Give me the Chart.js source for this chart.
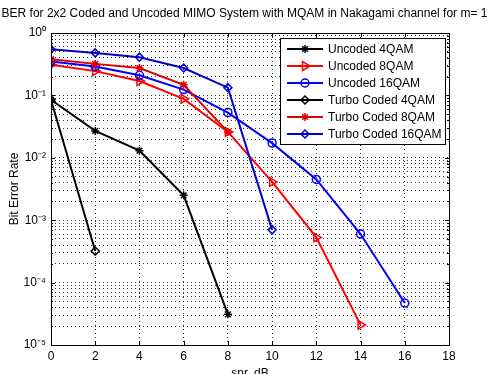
<!DOCTYPE html>
<html>
<head>
<meta charset="utf-8">
<script src="https://cdn.jsdelivr.net/npm/chart.js@4.4.1/dist/chart.umd.min.js"></script>
<style>
  html, body { margin: 0; padding: 0; background: #fff; }
</style>
</head>
<body>
<canvas id="chart" width="489" height="374"></canvas>
<script>
// DATA
const snr = [0, 2, 4, 6, 8, 10, 12, 14, 16];
const uncoded4 = [0.085, 0.027, 0.013, 0.0025, 3.1e-5];
const uncoded8 = [0.31, 0.245, 0.17, 0.088, 0.026, 0.0041, 0.00053, 2.1e-5];
const uncoded16 = [0.35, 0.29, 0.21, 0.124, 0.053, 0.0172, 0.0045, 0.0006, 4.7e-5];
const turbo4 = [0.085, 0.00032];
const turbo8 = [0.38, 0.32, 0.275, 0.148, 0.026];
const turbo16 = [0.55, 0.48, 0.41, 0.275, 0.133, 0.0007];

const names = [
  "Uncoded 4QAM",
  "Uncoded 8QAM",
  "Uncoded 16QAM",
  "Turbo Coded 4QAM",
  "Turbo Coded 8QAM",
  "Turbo Coded 16QAM"
];
const values = [uncoded4, uncoded8, uncoded16, turbo4, turbo8, turbo16];
const colors = ["#000000", "#ff0000", "#0000ff", "#000000", "#e00000", "#0000cc"];
const markers = ["star", "triangle", "circle", "rectRot", "star", "rectRot"];
const rotations = [0, 90, 0, 0, 0, 0];

const xTicks = [0, 2, 4, 6, 8, 10, 12, 14, 16, 18];
const yDecades = [-5, -4, -3, -2, -1, 0];

const FONT = "'Liberation Sans', Arial, Helvetica, sans-serif";
const sup = { "-": "\u207B", "0": "\u2070", "1": "\u00B9", "2": "\u00B2", "3": "\u00B3",
              "4": "\u2074", "5": "\u2075", "6": "\u2076", "7": "\u2077", "8": "\u2078", "9": "\u2079" };
const powLabel = e => "10" + String(e).split("").map(c => sup[c]).join("");

const datasets = values.map((vals, i) => ({
  label: names[i],
  data: vals.map((v, k) => ({ x: snr[k], y: v })),
  borderColor: colors[i],
  backgroundColor: "rgba(0,0,0,0)",
  borderWidth: 2,
  pointStyle: markers[i],
  pointRotation: rotations[i],
  pointRadius: markers[i] === "triangle" ? 5 : 4,
  pointBorderWidth: 1.5,
  pointBorderColor: colors[i],
  pointBackgroundColor: "rgba(0,0,0,0)",
  tension: 0,
  order: values.length - i
}));

// frame, inward ticks, boxed legend
const matlabBox = {
  id: "matlabBox",
  afterDraw(chart) {
    const ctx = chart.ctx;
    const a = chart.chartArea;
    const xs = chart.scales.x, ys = chart.scales.y;
    ctx.save();
    ctx.strokeStyle = "#000";
    ctx.lineWidth = 1;
    ctx.strokeRect(a.left + 0.5, a.top + 0.5, a.right - a.left, a.bottom - a.top);

    ctx.beginPath();
    xTicks.forEach(t => {
      const px = Math.round(xs.getPixelForValue(t)) + 0.5;
      ctx.moveTo(px, a.bottom); ctx.lineTo(px, a.bottom - 4);
      ctx.moveTo(px, a.top); ctx.lineTo(px, a.top + 4);
    });
    ys.ticks.forEach(t => {
      const py = Math.round(ys.getPixelForValue(t.value)) + 0.5;
      const len = Number.isInteger(Math.log10(t.value)) ? 4 : 2;
      ctx.moveTo(a.left, py); ctx.lineTo(a.left + len, py);
      ctx.moveTo(a.right, py); ctx.lineTo(a.right - len, py);
    });
    ctx.stroke();

    // legend
    const w = 165, h = 106;
    const lx = a.right - 4 - w, ly = a.top + 5;
    ctx.fillStyle = "#fff";
    ctx.fillRect(lx, ly, w, h);
    ctx.strokeRect(lx + 0.5, ly + 0.5, w, h);
    ctx.font = "12px " + FONT;
    ctx.textBaseline = "middle";
    chart.data.datasets.forEach((ds, i) => {
      const y = ly + 11 + i * 17;
      ctx.strokeStyle = ds.borderColor;
      ctx.lineWidth = 2;
      ctx.beginPath();
      ctx.moveTo(lx + 7, y); ctx.lineTo(lx + 43, y);
      ctx.stroke();
      ctx.lineWidth = ds.pointBorderWidth;
      ctx.fillStyle = "rgba(0,0,0,0)";
      Chart.helpers.drawPoint(ctx, {
        pointStyle: ds.pointStyle, radius: ds.pointRadius,
        rotation: ds.pointRotation, borderWidth: ds.pointBorderWidth
      }, lx + 25, y);
      ctx.fillStyle = "#000";
      ctx.fillText(ds.label, lx + 48, y + 1);
    });
    ctx.restore();
  }
};

const ctx = document.getElementById("chart").getContext("2d");

new Chart(ctx, {
  type: "line",
  data: { datasets },
  plugins: [matlabBox],
  options: {
    responsive: false,
    animation: false,
    layout: { padding: 0 },
    plugins: {
      legend: { display: false },
      tooltip: { enabled: false },
      title: {
        display: true,
        text: "BER for 2x2 Coded and Uncoded MIMO System with MQAM in Nakagami channel for m= 1",
        color: "#000",
        font: { family: FONT, size: 12, weight: "normal" },
        padding: { top: 6, bottom: 12.6 }
      }
    },
    scales: {
      x: {
        type: "linear",
        min: 0,
        max: 18,
        afterFit: s => { s.height = 29; },
        afterBuildTicks: s => { s.ticks = xTicks.map(v => ({ value: v })); },
        ticks: {
          color: "#000",
          padding: 4,
          font: { family: FONT, size: 12 },
          autoSkip: false,
          maxRotation: 0
        },
        grid: { color: "#333", lineWidth: 1, drawTicks: false },
        border: { display: false, dash: [1, 3] },
        title: {
          display: true,
          text: "snr, dB",
          color: "#000",
          font: { family: FONT, size: 12 },
          padding: { top: 0, bottom: -7 }
        }
      },
      y: {
        type: "logarithmic",
        min: 1e-5,
        max: 1,
        afterFit: s => { s.width = 51; },
        afterBuildTicks: s => {
          const t = [];
          yDecades.forEach(e => {
            const steps = e === 0 ? [1] : [1, 2, 3, 4, 5, 6, 7, 8, 9];
            steps.forEach(m => t.push({ value: m * Math.pow(10, e) }));
          });
          s.ticks = t;
        },
        ticks: {
          color: "#000",
          padding: 5,
          autoSkip: false,
          font: { family: FONT, size: 12 },
          callback: v => {
            const e = Math.log10(v);
            return Math.abs(e - Math.round(e)) < 1e-9 ? powLabel(Math.round(e)) : "";
          }
        },
        grid: { color: "#333", lineWidth: 1, drawTicks: false },
        border: { display: false, dash: [1, 3] },
        title: {
          display: true,
          text: "Bit Error Rate",
          color: "#000",
          font: { family: FONT, size: 12 },
          padding: { top: 7, bottom: 0 }
        }
      },
      // empty right-hand margin so the plot ends where the reference does
      yRight: {
        type: "linear",
        position: "right",
        display: true,
        afterFit: s => { s.width = 40; },
        ticks: { display: false },
        grid: { display: false, drawOnChartArea: false },
        border: { display: false }
      }
    }
  }
});
</script>
</body>
</html>
